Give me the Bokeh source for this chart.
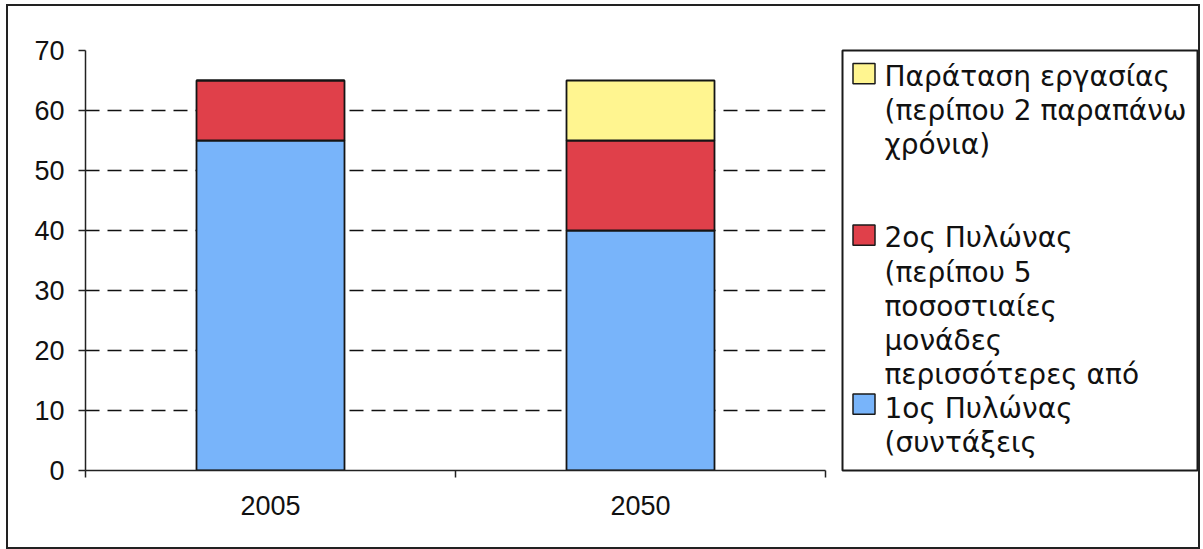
from bokeh.plotting import figure
from bokeh.layouts import row
from bokeh.models import Range1d, FixedTicker, ColumnDataSource
from bokeh.core.properties import value
from bokeh.embed import file_html
from bokeh.resources import INLINE

# ---- data ----
categories = ["2005", "2050"]
pillar1 = [55, 40]          # 1ος Πυλώνας
pillar2 = [10, 15]          # 2ος Πυλώνας
extension = [0, 10]         # Παράταση εργασίας
y_ticks = [0, 10, 20, 30, 40, 50, 60, 70]

series_names = ["pillar1", "pillar2", "extension"]
series_colors = ["#78B4FA", "#E0404A", "#FFF590"]

legend_lines = [
    ["Παράταση εργασίας", "(περίπου 2 παραπάνω", "χρόνια)"],
    ["2ος Πυλώνας", "(περίπου 5", "ποσοστιαίες", "μονάδες", "περισσότερες από"],
    ["1ος Πυλώνας", "(συντάξεις"],
]
legend_colors = ["#FFF590", "#E0404A", "#78B4FA"]

# ---- main chart ----
pos = [i + 0.5 for i in range(len(categories))]
src = ColumnDataSource(dict(x=pos, pillar1=pillar1, pillar2=pillar2, extension=extension))

TOTAL_H = 541
p = figure(width=830, height=TOTAL_H, output_backend="svg", toolbar_location=None,
           x_range=Range1d(0, len(categories)), y_range=Range1d(0, 70),
           min_border_left=77, min_border_right=13, min_border_top=44, min_border_bottom=77)
p.outline_line_color = None
p.background_fill_color = "white"
p.border_fill_color = "white"

p.vbar_stack(series_names, x="x", width=0.4, source=src, color=series_colors,
             line_color="#151515", line_width=1.8)

# axes
ax = p.xaxis[0]
ax.ticker = FixedTicker(ticks=pos, minor_ticks=list(range(len(categories) + 1)))
ax.major_label_overrides = {pos[i]: categories[i] for i in range(len(categories))}
ax.major_tick_line_color = None
ax.major_tick_out = 0
ax.major_tick_in = 0
ax.minor_tick_out = 7
ax.minor_tick_in = 0
ax.minor_tick_line_color = "#222"
ax.minor_tick_line_width = 1.5
ax.axis_line_color = "#222"
ax.axis_line_width = 1.5
ax.major_label_standoff = 18
ax.major_label_text_font = "Liberation Sans"
ax.major_label_text_font_size = "27px"
ax.major_label_text_color = "#111"

ay = p.yaxis[0]
ay.ticker = FixedTicker(ticks=y_ticks)
ay.minor_tick_line_color = None
ay.major_tick_out = 7
ay.major_tick_in = 0
ay.major_tick_line_color = "#222"
ay.major_tick_line_width = 1.5
ay.axis_line_color = "#222"
ay.axis_line_width = 1.5
ay.major_label_standoff = 14
ay.major_label_text_font = "Liberation Sans"
ay.major_label_text_font_size = "27px"
ay.major_label_text_color = "#111"

p.xgrid.grid_line_color = None
p.ygrid.ticker = FixedTicker(ticks=y_ticks)
p.ygrid.grid_line_color = "#111"
p.ygrid.grid_line_width = 1.5
p.ygrid.grid_line_dash = "14 8"

# ---- legend panel ----
LEG_W, LEG_H = 355, 455
LINE_H = 37
SWATCH = 22
SWATCH_X = 21.5
TEXT_X = 42
ENTRY_TOP = [28, 203, 388]

lg = figure(width=360, height=TOTAL_H, output_backend="svg", toolbar_location=None,
            x_range=Range1d(0, LEG_W), y_range=Range1d(LEG_H, 0),
            min_border_left=4, min_border_right=1, min_border_top=29, min_border_bottom=57)
lg.axis.visible = False
lg.grid.visible = False
lg.outline_line_color = "#1a1a1a"
lg.outline_line_width = 2
lg.border_fill_color = "white"

tx, ty, tt = [], [], []
sx, sy, sc = [], [], []
for k, lines in enumerate(legend_lines):
    sx.append(SWATCH_X)
    sy.append(ENTRY_TOP[k] - 3 if k < 2 else ENTRY_TOP[k] - 5)
    sc.append(legend_colors[k])
    for j, t in enumerate(lines):
        tx.append(TEXT_X)
        ty.append(ENTRY_TOP[k] + j * LINE_H)
        tt.append(t)

lg.rect(x=sx, y=sy, width=SWATCH, height=SWATCH, fill_color=sc,
        line_color="#1a1a1a", line_width=1.5)
lg.text(x=tx, y=ty, text=tt, text_font=value("DejaVu Sans"), text_font_size="28px",
        text_baseline="middle", text_align="left", text_color="#111")

layout = row(p, lg, styles={"margin-left": "8px", "margin-top": "6px",
                            "outline": "2px solid #222", "outline-offset": "0px"})

open("out.html", "w").write(file_html(layout, INLINE))
